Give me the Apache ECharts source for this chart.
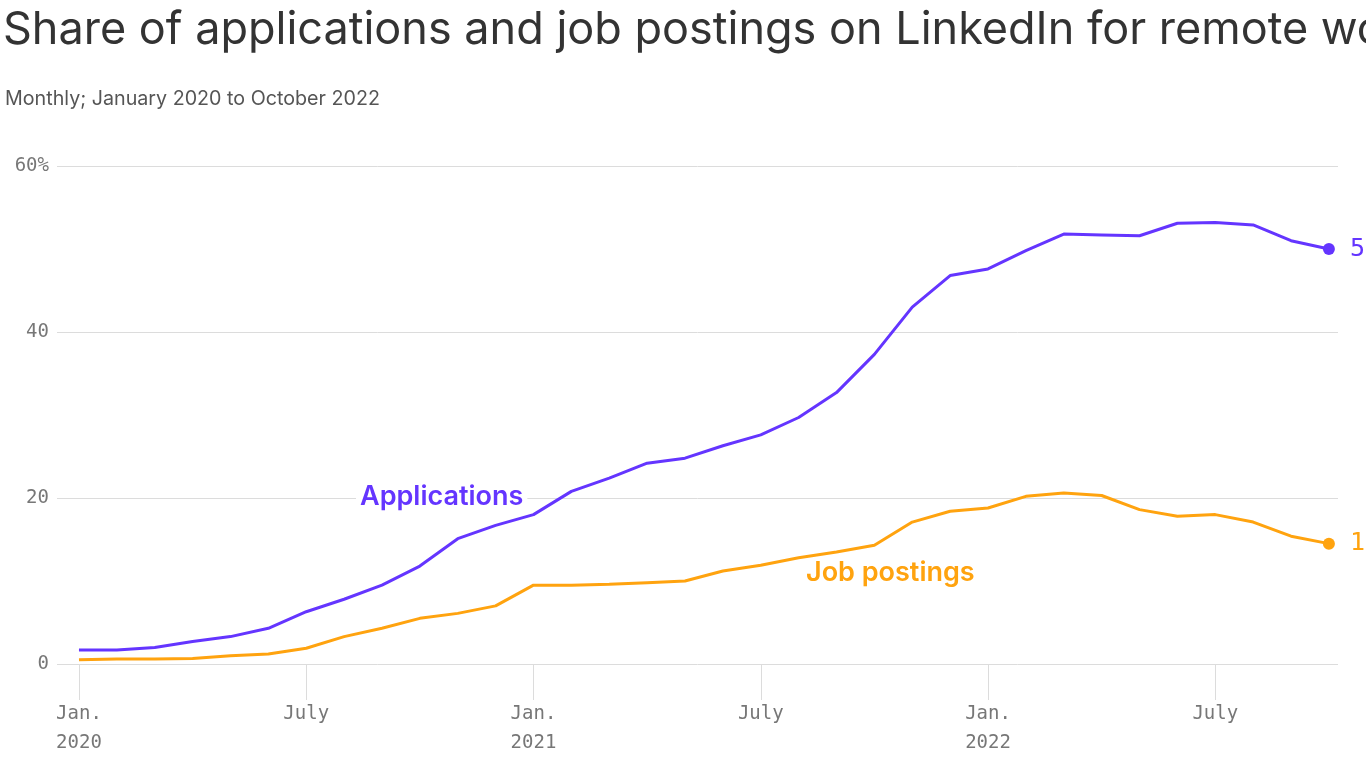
<!DOCTYPE html>
<html>
<head>
<meta charset="utf-8">
<script src="https://cdn.jsdelivr.net/npm/echarts@6/dist/echarts.min.js"></script>
<style>
  html, body { margin: 0; padding: 0; background: #fff; overflow: hidden; }
  #main { width: 1366px; height: 768px; }
</style>
</head>
<body>
<div id="main"></div>
<script>
// monthly data, Jan 2020 .. Oct 2022
const months = [
  'Jan 2020','Feb 2020','Mar 2020','Apr 2020','May 2020','Jun 2020','Jul 2020','Aug 2020','Sep 2020','Oct 2020','Nov 2020','Dec 2020',
  'Jan 2021','Feb 2021','Mar 2021','Apr 2021','May 2021','Jun 2021','Jul 2021','Aug 2021','Sep 2021','Oct 2021','Nov 2021','Dec 2021',
  'Jan 2022','Feb 2022','Mar 2022','Apr 2022','May 2022','Jun 2022','Jul 2022','Aug 2022','Sep 2022','Oct 2022'
];
const applications = [
  1.7, 1.7, 2.0, 2.7, 3.3, 4.3, 6.3, 7.8, 9.5, 11.8, 15.1, 16.7,
  18.0, 20.8, 22.4, 24.2, 24.8, 26.3, 27.6, 29.7, 32.7, 37.3, 43.0, 46.8,
  47.6, 49.8, 51.8, 51.7, 51.6, 53.1, 53.2, 52.9, 51.0, 50.0
];
const jobPostings = [
  0.5, 0.6, 0.6, 0.65, 1.0, 1.2, 1.9, 3.3, 4.3, 5.5, 6.1, 7.0,
  9.5, 9.5, 9.6, 9.8, 10.0, 11.2, 11.9, 12.8, 13.5, 14.3, 17.1, 18.4,
  18.8, 20.2, 20.6, 20.3, 18.6, 17.8, 18.0, 17.1, 15.4, 14.5
];
// x tick positions (month index) and their labels
const xTicks = [0, 6, 12, 18, 24, 30];
const xTickLabels = ['Jan.\n2020', 'July', 'Jan.\n2021', 'July', 'Jan.\n2022', 'July'];
const yTicks = [0, 20, 40, 60];

const purple = '#6435ff';
const orange = '#ffa30f';
const mono = '"DejaVu Sans Mono", "Liberation Mono", monospace';

const chart = echarts.init(document.getElementById('main'));

function toPoints(arr) {
  return arr.map((v, i) => [i, v]);
}

function lastDot(arr) {
  // only show a dot on the final month
  return (value, params) => params.dataIndex === arr.length - 1 ? 12 : 0;
}

const option = {
  animation: false,
  title: [
    {
      text: 'Share of applications and job postings on LinkedIn for remote work',
      left: -2, top: 3,
      textStyle: { fontFamily: 'Inter', fontWeight: 400, fontSize: 45, color: '#333' }
    },
    {
      text: 'Monthly; January 2020 to October 2022',
      left: 0, top: 84,
      textStyle: { fontFamily: 'Inter', fontWeight: 400, fontSize: 19.7, color: '#555' }
    }
  ],
  grid: { left: 57, right: 28, top: 166, bottom: 104, containLabel: false },
  xAxis: {
    type: 'value',
    min: -0.58,
    max: 33.24,
    axisLine: { show: false },
    splitLine: { show: false },
    axisTick: {
      show: true,
      customValues: xTicks,
      length: 36,
      lineStyle: { color: '#dcdcdc', width: 1 }
    },
    axisLabel: {
      customValues: xTicks,
      margin: 36,
      fontFamily: mono,
      fontSize: 19,
      color: '#777',
      lineHeight: 29,
      formatter: (v) => xTickLabels[xTicks.indexOf(v)] || ''
    }
  },
  yAxis: {
    type: 'value',
    min: 0,
    max: 60,
    interval: 20,
    axisLine: { show: false },
    axisTick: { show: false },
    splitLine: { lineStyle: { color: '#dcdcdc', width: 1 } },
    axisLabel: {
      margin: 8,
      padding: [6, 0, 0, 0],
      fontFamily: mono,
      fontSize: 19,
      color: '#777',
      formatter: (v) => v === yTicks[yTicks.length - 1] ? v + '%' : String(v)
    }
  },
  series: [
    {
      name: 'Job postings',
      type: 'line',
      data: toPoints(jobPostings),
      symbol: 'circle',
      symbolSize: lastDot(jobPostings),
      showSymbol: true,
      lineStyle: { color: orange, width: 3 },
      itemStyle: { color: orange },
      endLabel: {
        show: true,
        distance: 21,
        fontFamily: mono,
        fontSize: 25,
        color: orange,
        formatter: (p) => Math.round(p.value[1]) + '%'
      }
    },
    {
      name: 'Applications',
      type: 'line',
      data: toPoints(applications),
      symbol: 'circle',
      symbolSize: lastDot(applications),
      showSymbol: true,
      lineStyle: { color: purple, width: 3 },
      itemStyle: { color: purple },
      endLabel: {
        show: true,
        distance: 21,
        fontFamily: mono,
        fontSize: 25,
        color: purple,
        formatter: (p) => Math.round(p.value[1]) + '%'
      }
    }
  ],
  graphic: [
    {
      type: 'text', left: 356, top: 483, z: 100,
      style: {
        text: 'Applications', fontFamily: 'Inter', fontWeight: 600, fontSize: 27, fill: purple,
        backgroundColor: '#fff', padding: [0, 4]
      }
    },
    {
      type: 'text', left: 806, top: 559, z: 100,
      style: {
        text: 'Job postings', fontFamily: 'Inter', fontWeight: 600, fontSize: 27, fill: orange
      }
    }
  ]
};

chart.setOption(option);
</script>
</body>
</html>
